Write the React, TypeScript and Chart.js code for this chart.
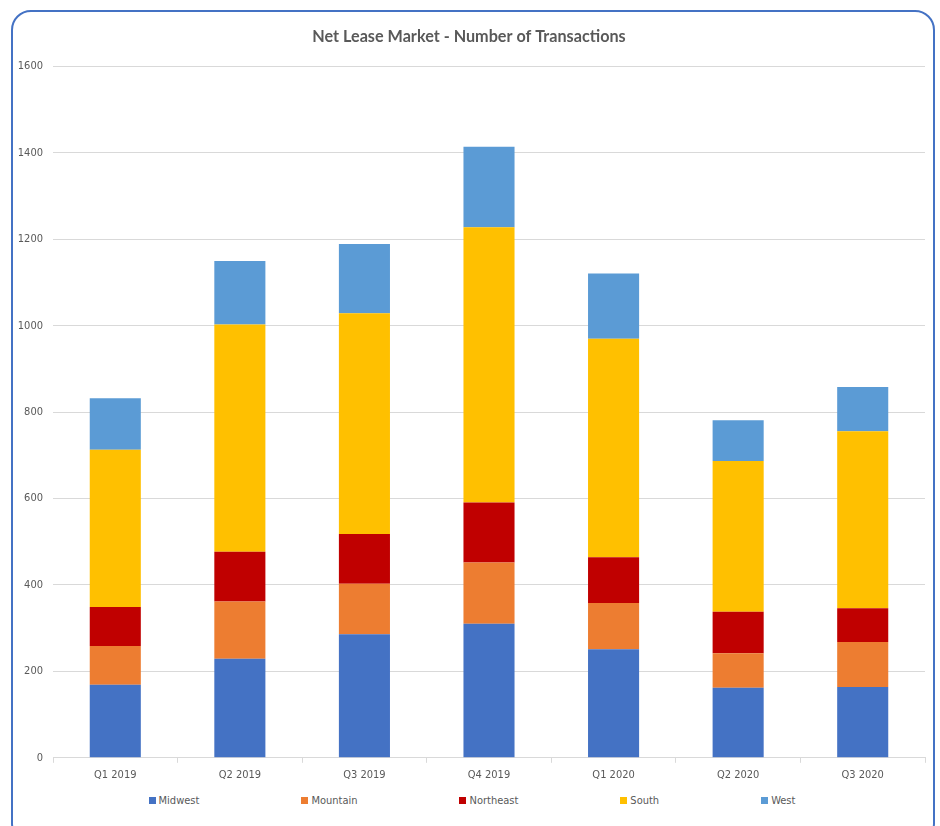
import { useEffect, useRef } from "react";
import { Chart, registerables } from "chart.js";

Chart.register(...registerables);

// Quarterly net lease transaction counts by region
const quarters = ["Q1 2019", "Q2 2019", "Q3 2019", "Q4 2019", "Q1 2020", "Q2 2020", "Q3 2020"];
const midwest = [169, 229, 286, 310, 251, 162, 164];
const mountain = [90, 133, 117, 142, 107, 80, 104];
const northeast = [90, 115, 115, 139, 106, 96, 78];
const south = [364, 526, 511, 637, 506, 349, 410];
const west = [119, 147, 160, 186, 151, 94, 102];

const regionNames = ["Midwest", "Mountain", "Northeast", "South", "West"];
const regionColors = ["#4472C4", "#ED7D31", "#C00000", "#FFC000", "#5B9BD5"];
const regionValues = [midwest, mountain, northeast, south, west];

const yMax = 1600;
const yStep = 200;

const narrow = "'Liberation Sans Narrow', 'DejaVu Sans Condensed', 'Arial Narrow', sans-serif";
const textGray = "#595959";

export default function App() {
  const canvasRef = useRef<HTMLCanvasElement | null>(null);

  useEffect(() => {
    if (!canvasRef.current) return;
    const chart = new Chart(canvasRef.current, {
      type: "bar",
      data: {
        labels: quarters,
        datasets: regionNames.map((name, i) => ({
          label: name,
          data: regionValues[i],
          backgroundColor: regionColors[i],
          borderWidth: 0,
          barPercentage: 0.41,
          categoryPercentage: 1,
        })),
      },
      options: {
        animation: false,
        responsive: false,
        maintainAspectRatio: false,
        layout: { padding: { left: 0, right: 8, top: 0, bottom: 4 } },
        plugins: {
          legend: { display: false },
          tooltip: { enabled: false },
          title: {
            display: true,
            text: "Net Lease Market - Number of Transactions",
            color: textGray,
            font: { family: "Lato, 'Open Sans', sans-serif", size: 16.2, weight: "bold" },
            padding: { top: 15, bottom: 20 },
          },
        },
        scales: {
          x: {
            stacked: true,
            offset: true,
            grid: {
              offset: true,
              drawOnChartArea: false,
              drawTicks: true,
              tickLength: 5,
              color: "#d9d9d9",
            },
            border: { display: true, color: "#d9d9d9", width: 1 },
            ticks: {
              color: textGray,
              font: { family: narrow, size: 11 },
              padding: 6,
              maxRotation: 0,
            },
          },
          y: {
            stacked: true,
            min: 0,
            max: yMax,
            afterFit: (axis) => {
              axis.width = 40;
            },
            grid: { color: "#d9d9d9", lineWidth: 1, drawTicks: false },
            border: { display: false },
            ticks: {
              stepSize: yStep,
              color: textGray,
              font: { family: narrow, size: 11 },
              padding: 10,
              callback: (value) => String(value),
            },
          },
        },
      },
    });
    return () => chart.destroy();
  }, []);

  return (
    <div
      style={{
        position: "fixed",
        left: 11,
        top: 10,
        width: 920,
        height: 830,
        border: "2px solid #4472C4",
        borderRadius: 20,
        background: "#fff",
        overflow: "hidden",
      }}
    >
      <canvas ref={canvasRef} width={920} height={780} style={{ display: "block" }} />
      <div
        style={{
          display: "flex",
          justifyContent: "center",
          gap: 102,
          marginTop: 2,
          marginLeft: -2,
          fontFamily: narrow,
          fontSize: 11,
          color: textGray,
        }}
      >
        {regionNames.map((name, i) => (
          <div key={name} style={{ display: "flex", alignItems: "center", gap: 3 }}>
            <span style={{ width: 7, height: 7, background: regionColors[i], display: "inline-block" }} />
            <span>{name}</span>
          </div>
        ))}
      </div>
    </div>
  );
}
